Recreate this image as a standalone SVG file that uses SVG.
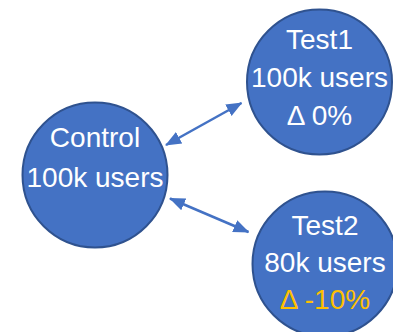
<svg xmlns="http://www.w3.org/2000/svg" width="393" height="332" viewBox="0 0 393 332">
<style>
.node{fill:#4472C4;stroke:#2F528F;stroke-width:2}
.t{font-family:"Liberation Sans",Arial,sans-serif;font-size:28px;fill:#ffffff;text-anchor:middle}
.hl{fill:#FFC000}
.conn{stroke:#4472C4;stroke-width:2.5;fill:none}
</style>
<defs>
<marker id="ah" markerUnits="userSpaceOnUse" markerWidth="16" markerHeight="16" refX="15" refY="8" orient="auto-start-reverse" viewBox="0 0 16 16">
<path d="M0,1.5 L16,8 L0,14.5 Z" fill="#4472C4"/>
</marker>
</defs>
<g id="connectors">
<line class="conn" x1="166" y1="145" x2="241.5" y2="103" marker-start="url(#ah)" marker-end="url(#ah)"/>
<line class="conn" x1="170" y1="198.5" x2="248.5" y2="232" marker-start="url(#ah)" marker-end="url(#ah)"/>
</g>
<g id="control">
<circle class="node" cx="95" cy="175" r="72.5"/>
<text class="t" x="95" y="147">Control</text>
<text class="t" x="95" y="187">100k users</text>
</g>
<g id="test1">
<circle class="node" cx="319.5" cy="82" r="72.5"/>
<text class="t" x="319.5" y="48.5">Test1</text>
<text class="t" x="319.5" y="87">100k users</text>
<text class="t" x="319.5" y="125">Δ 0%</text>
</g>
<g id="test2">
<circle class="node" cx="325" cy="264" r="72.5"/>
<text class="t" x="325" y="235">Test2</text>
<text class="t" x="325" y="272">80k users</text>
<text class="t hl" x="325" y="308.5">Δ -10%</text>
</g>
</svg>
